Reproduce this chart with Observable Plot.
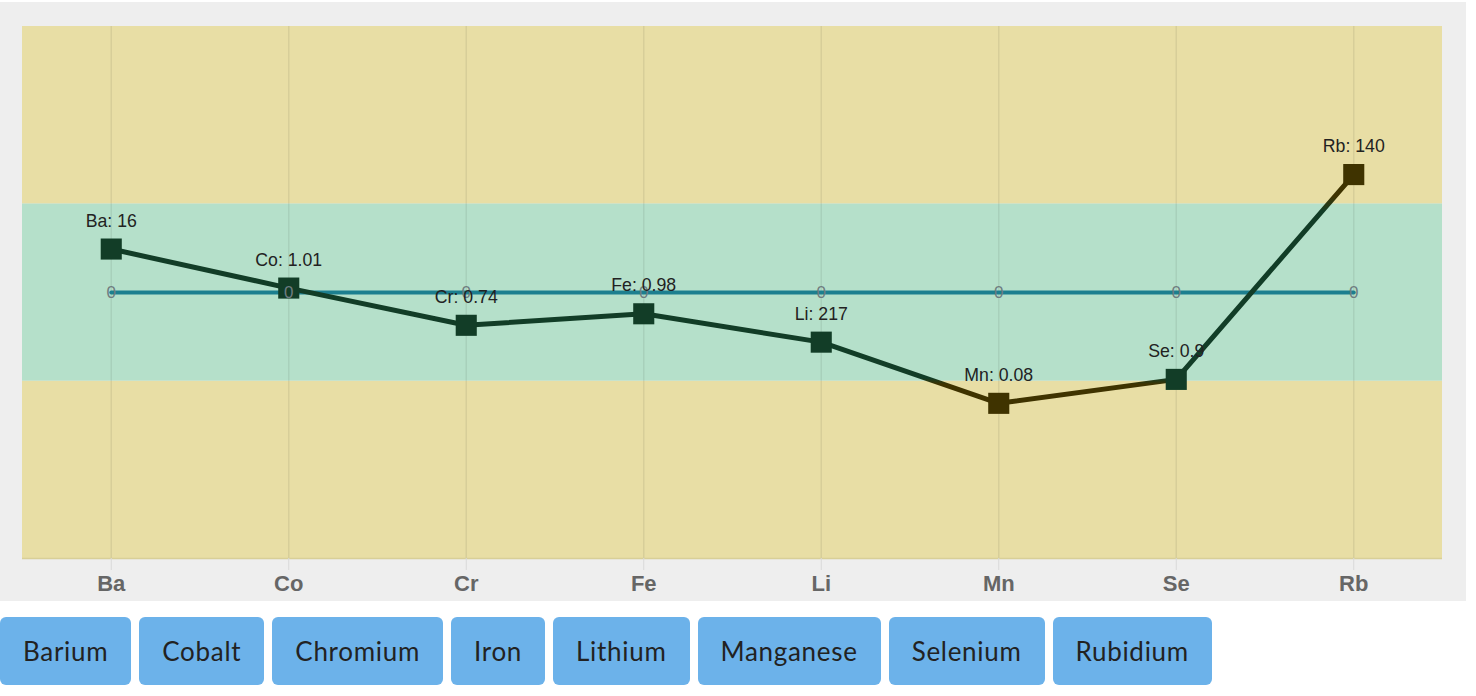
<!DOCTYPE html>
<html>
<head>
<meta charset="utf-8">
<script src="https://cdn.jsdelivr.net/npm/d3@7"></script>
<script src="https://cdn.jsdelivr.net/npm/@observablehq/plot@0.6"></script>
<style>
  html, body { margin: 0; padding: 0; background: #fff; }
  #panel { position: absolute; left: 0; top: 2px; width: 1466px; height: 599px; background: #eeeeee; }
  #buttons { position: absolute; left: 0; top: 617px; display: flex; gap: 8px; }
  #buttons button {
    height: 68px; padding: 0 23px; border: none; border-radius: 6px;
    background: #6cb2ea; color: #222; font-family: Lato, "Noto Sans", sans-serif;
    font-size: 26px; letter-spacing: 0.7px; cursor: pointer;
  }
</style>
</head>
<body>
<div id="panel"></div>
<div id="buttons"></div>
<script>
// ---- data ----
const symbols = ["Ba", "Co", "Cr", "Fe", "Li", "Mn", "Se", "Rb"];
const names = ["Barium", "Cobalt", "Chromium", "Iron", "Lithium", "Manganese", "Selenium", "Rubidium"];
const measured = ["16", "1.01", "0.74", "0.98", "217", "0.08", "0.9", "140"];
const scores = [0.49, 0.05, -0.37, -0.24, -0.56, -1.25, -0.98, 1.33];
const reference = [0, 0, 0, 0, 0, 0, 0, 0];
const yDomain = [-3, 3];
const normalRange = [-1, 1];

const rows = symbols.map((s, i) => ({sym: s, name: names[i], val: measured[i], score: scores[i], ref: reference[i]}));

const GREEN_BAND = "#b5e0ca", YELLOW_BAND = "#e8dea5";
const IN_COLOR = "#123d27", OUT_COLOR = "#3f3300";
const FONT = "Liberation Sans, Arial, sans-serif";

function defsMark(index, scales, values, dims) {
  const H = dims.height;
  const a = scales.y(normalRange[1]) / H, b = scales.y(normalRange[0]) / H;
  const ns = "http://www.w3.org/2000/svg";
  const defs = document.createElementNS(ns, "defs");
  const g = document.createElementNS(ns, "linearGradient");
  g.setAttribute("id", "bandGrad");
  g.setAttribute("gradientUnits", "userSpaceOnUse");
  g.setAttribute("x1", 0); g.setAttribute("x2", 0);
  g.setAttribute("y1", 0); g.setAttribute("y2", H);
  const stops = [[0, OUT_COLOR], [a - 0.012, OUT_COLOR], [a + 0.012, IN_COLOR], [b - 0.005, IN_COLOR], [b + 0.005, OUT_COLOR], [1, OUT_COLOR]];
  for (const [o, c] of stops) {
    const s = document.createElementNS(ns, "stop");
    s.setAttribute("offset", Math.max(0, Math.min(1, o)));
    s.setAttribute("stop-color", c);
    g.appendChild(s);
  }
  defs.appendChild(g);
  return defs;
}

const chart = Plot.plot({
  width: 1466,
  height: 599,
  marginLeft: 22,
  marginRight: 24,
  marginTop: 24,
  marginBottom: 43,
  style: {background: "transparent", overflow: "visible"},
  x: {type: "band", domain: symbols, padding: 0, round: false, axis: null, label: null},
  y: {domain: yDomain, axis: null},
  color: {type: "identity"},
  marks: [
    defsMark,
    Plot.rect([0], {y1: yDomain[0], y2: normalRange[0], fill: YELLOW_BAND}),
    Plot.rect([0], {y1: normalRange[0], y2: normalRange[1], fill: GREEN_BAND}),
    Plot.rect([0], {y1: normalRange[1], y2: yDomain[1], fill: YELLOW_BAND}),
    Plot.ruleX(symbols, {stroke: "#000", strokeOpacity: 0.07, strokeWidth: 1.5}),
    Plot.ruleY([yDomain[0]], {stroke: "#d8cf98", strokeWidth: 1.5}),
    Plot.axisX({tickSize: 12, tickPadding: 5, label: null, fontSize: 22, fontWeight: "bold", fill: "#666", stroke: "#d9d9d9", fontFamily: FONT}),
    Plot.lineY(rows, {x: "sym", y: "ref", stroke: "#1c7f8f", strokeWidth: 4}),
    Plot.lineY(rows, {x: "sym", y: "score", stroke: "url(#bandGrad)", strokeWidth: 5}),
    Plot.dot(rows, {x: "sym", y: "score", symbol: "square", r: 11.9,
      fill: d => (d.score >= normalRange[0] && d.score <= normalRange[1]) ? IN_COLOR : OUT_COLOR, stroke: "none"}),
    Plot.text(rows, {x: "sym", y: "ref", text: d => String(d.ref), fill: "#6e7c80", fontSize: 17, fontFamily: FONT}),
    Plot.text(rows, {x: "sym", y: "score", text: d => `${d.sym}: ${d.val}`, dy: -28, fill: "#222", fontSize: 17.7, fontFamily: FONT})
  ]
});
document.getElementById("panel").appendChild(chart);

const bw = document.getElementById("buttons");
for (const n of names) {
  const b = document.createElement("button");
  b.textContent = n;
  bw.appendChild(b);
}
</script>
</body>
</html>
